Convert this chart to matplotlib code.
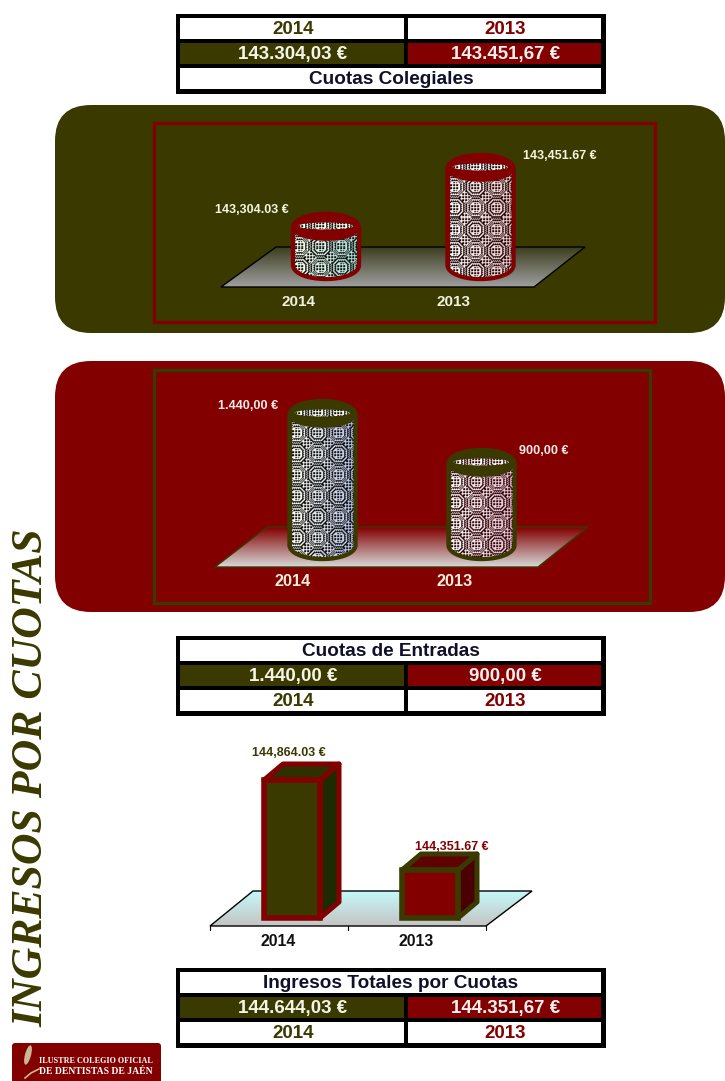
#!/usr/bin/env python3
"""Ingresos por cuotas: tres graficos 3D con sus tablas."""
import numpy as np
import matplotlib
matplotlib.use('Agg')
import matplotlib.pyplot as plt
from matplotlib.colors import to_rgb
from matplotlib.patches import Rectangle, Ellipse, FancyBboxPatch, Polygon

W, H = 725, 1081
OLIVE = '#393900'
RED = '#820000'

# Data
years = ['2014', '2013']
cuotas_colegiales = [143304.03, 143451.67]
cuotas_entradas = [1440.00, 900.00]
ingresos_totales = [144864.03, 144351.67]

labels_colegiales = ['143,304.03 €', '143,451.67 €']
labels_entradas = ['1.440,00 €', '900,00 €']
labels_totales = ['144,864.03 €', '144,351.67 €']

table_colegiales = ['143.304,03 €', '143.451,67 €']
table_entradas = ['1.440,00 €', '900,00 €']
table_totales = ['144.644,03 €', '144.351,67 €']

plt.rcParams['font.family'] = ['Liberation Sans', 'DejaVu Sans']
plt.rcParams['font.weight'] = 'bold'

fig = plt.figure(figsize=(W / 100, H / 100), dpi=100)
bg = fig.add_axes([0, 0, 1, 1])
bg.set_xlim(0, W)
bg.set_ylim(H, 0)
bg.axis('off')


def chart_axes(box, cat_px, val0, val1):
    # axes in pixel box; categories at 0/1, y axis truncated via two value/pixel pairs
    x0, y0, x1, y1 = box
    ax = fig.add_axes([x0 / W, 1 - y1 / H, (x1 - x0) / W, (y1 - y0) / H])
    dx = 1 / (cat_px[1] - cat_px[0])
    ax.set_xlim((x0 - cat_px[0]) * dx, (x1 - cat_px[0]) * dx)
    dy = (val1[0] - val0[0]) / (val0[1] - val1[1])
    ax.set_ylim(val0[0] - (y1 - val0[1]) * dy, val0[0] + (val0[1] - y0) * dy)
    ax.axis('off')
    ax.patch.set_alpha(0)
    return ax, dx, dy


def texture(w, h, c_left, c_right, dark):
    # woven fill: octagon rings around dotted squares, softened a little
    w, h = int(w), int(h)
    y, x = np.mgrid[0:h, 0:w]
    cx = (x + 6) % 21 - 10
    cy = (y + 2) % 21 - 10
    r = np.maximum(np.maximum(abs(cx), abs(cy)), (abs(cx) + abs(cy)) / 1.4)
    dots = (x % 3 != 2) & (y % 3 != 2)
    step = np.floor(r) % 3
    rings = (step == 0) | ((step == 1) & ((x + y) % 2 == 0))
    corner = (abs(cx) + abs(cy)) > 14
    mask = np.where((r < 5) | corner, dots, rings)
    t = (x / max(w - 1, 1))[..., None]
    light = (1 - t) * np.array(to_rgb(c_left)) + t * np.array(to_rgb(c_right))
    img = np.where(mask[..., None], np.array(to_rgb(dark)), light)
    return (img * 3 + np.roll(img, 1, 0) + np.roll(img, 1, 1)) / 5


def cylinder(ax, dx, dy, xc, value, base, edge, c_left, c_right, dark, width_px=62, ell_px=24):
    hw = width_px / 2 * dx
    eh = ell_px * dy
    t = np.linspace(0, np.pi, 40)
    top_x = xc + hw * np.cos(t)
    top_y = value + eh / 2 * np.sin(t)
    bot_x = xc - hw * np.cos(t)
    bot_y = base - eh / 2 * np.sin(t)
    body = Polygon(np.column_stack([np.r_[top_x, bot_x], np.r_[top_y, bot_y]]),
                   closed=True, fc=edge, ec=edge, lw=6, joinstyle='round', zorder=2)
    ax.add_patch(body)
    h_px = (value - base) / dy + ell_px
    img = texture(width_px, h_px, c_left, c_right, dark)
    im = ax.imshow(img, extent=(xc - hw, xc + hw, base - eh / 2, value + eh / 2),
                   aspect='auto', interpolation='nearest', zorder=3)
    im.set_clip_path(Polygon(body.get_xy(), closed=True, transform=ax.transData))
    lid = Ellipse((xc, value), 2 * hw, 20 * dy, fc=edge, ec=edge, lw=4, zorder=4)
    ax.add_patch(lid)
    inner = Ellipse((xc, value + 2 * dy), 1.8 * hw, 7 * dy, transform=ax.transData)
    im2 = ax.imshow(texture(width_px, ell_px, c_left, c_left, dark),
                    extent=(xc - hw, xc + hw, value - eh / 2, value + eh / 2),
                    aspect='auto', interpolation='nearest', zorder=5)
    im2.set_clip_path(inner)


def box3d(ax, dx, dy, xc, value, base, face, edge, top, side, width_px=56, dep_x=19, dep_y=16):
    hw = width_px / 2 * dx
    ddx, ddy = dep_x * dx, dep_y * dy
    ax.add_patch(Polygon([(xc + hw, base), (xc + hw + ddx, base + ddy), (xc + hw + ddx, value + ddy), (xc + hw, value)],
                         fc=side, ec=edge, lw=3.6, joinstyle='round', zorder=2))
    ax.add_patch(Polygon([(xc - hw, value), (xc + hw, value), (xc + hw + ddx, value + ddy), (xc - hw + ddx, value + ddy)],
                         fc=top, ec=edge, lw=3.6, joinstyle='round', zorder=2))
    ax.bar(xc, value - base, bottom=base, width=2 * hw, color=face, edgecolor=edge, linewidth=4, zorder=3)


def floor(back, front, top_color, front_color, line):
    # back=(y,x0,x1), front=(y,x0,x1)
    pts = [(back[1], back[0]), (back[2], back[0]), (front[2], front[0]), (front[1], front[0])]
    c0 = np.array(to_rgb(top_color))
    c1 = np.array(to_rgb(front_color))
    t = np.linspace(0, 1, 64)[:, None, None]
    img = (1 - t) * c0[None, None, :] + t * c1[None, None, :]
    xs = [p[0] for p in pts]
    im = bg.imshow(img, extent=(min(xs), max(xs), front[0], back[0]), aspect='auto', zorder=2)
    im.set_clip_path(Polygon(pts, closed=True, transform=bg.transData))
    bg.add_patch(Polygon(pts, closed=True, fill=False, ec=line, lw=1, zorder=3))


def panel(x0, y0, x1, y1, fill, frame, frame_box):
    r = 36
    bg.add_patch(FancyBboxPatch((x0 + r, y0 + r), x1 - x0 - 2 * r, y1 - y0 - 2 * r,
                                boxstyle='round,pad=%d,rounding_size=%d' % (r, r), fc=fill, ec='none', zorder=1))
    fx0, fy0, fx1, fy1 = frame_box
    bg.add_patch(Rectangle((fx0, fy0), fx1 - fx0, fy1 - fy0, fill=False, ec=frame, lw=2.4, zorder=1.5))


def table(y0, rows):
    bg.add_patch(Rectangle((176, y0), 430, 80, fc='black', ec='none', zorder=1))
    for i, row in enumerate(rows):
        ry = y0 + 4 + 25 * i
        if len(row) == 1:
            bg.add_patch(Rectangle((180, ry), 421, 21, fc='white', ec='none', zorder=2))
            bg.text(391, ry + 11, row[0], ha='center', va='center', fontsize=13.7, color='#10102a', zorder=3)
        else:
            for (text, fill, color), cx0, cx1 in zip(row, (180, 408), (404, 601)):
                bg.add_patch(Rectangle((cx0, ry), cx1 - cx0, 21, fc=fill, ec='none', zorder=2))
                bg.text((cx0 + cx1) / 2 + 1, ry + 11, text, ha='center', va='center', fontsize=13.5, color=color, zorder=3)


year_row = [(years[0], 'white', OLIVE), (years[1], 'white', RED)]

# ------------------------------------------------------------------ tables
table(14, [year_row,
           [(table_colegiales[0], OLIVE, '#f4f4e8'), (table_colegiales[1], RED, '#f8eeee')],
           ['Cuotas Colegiales']])
table(636, [['Cuotas de Entradas'],
            [(table_entradas[0], OLIVE, '#f4f4e8'), (table_entradas[1], RED, '#f8eeee')],
            year_row])
table(968, [['Ingresos Totales por Cuotas'],
            [(table_totales[0], OLIVE, '#f4f4e8'), (table_totales[1], RED, '#f8eeee')],
            year_row])

# ------------------------------------------------------------------ chart 1
panel(55, 105, 725, 333, OLIVE, RED, (154, 123, 655, 322))
floor((247, 276, 585), (287, 221, 534), '#3d3d20', '#a0a0a0', 'black')
ax1, dx, dy = chart_axes((154, 123, 655, 322), (326, 480.5), (cuotas_colegiales[0], 228), (cuotas_colegiales[1], 169))
base1 = cuotas_colegiales[0] - 37 * dy
cylinder(ax1, dx, dy, 0, cuotas_colegiales[0], base1, RED, '#fffff0', '#a8e0d8', '#101010')
cylinder(ax1, dx, dy, 1, cuotas_colegiales[1], base1, RED, '#ffffff', '#f0c8c8', '#200808')
bg.text(252, 210, labels_colegiales[0], ha='center', va='center', fontsize=9, color='#f4f4e0', zorder=3)
bg.text(560, 156, labels_colegiales[1], ha='center', va='center', fontsize=9, color='#f4f4e0', zorder=3)
bg.text(299, 302, years[0], ha='center', va='center', fontsize=11, color='#f0f0e0', zorder=3)
bg.text(454, 302, years[1], ha='center', va='center', fontsize=11, color='#f0f0e0', zorder=3)

# ------------------------------------------------------------------ chart 2
panel(55, 361, 725, 612, RED, OLIVE, (154, 370, 650, 603))
floor((527, 267, 588), (567, 215, 538), RED, '#d8d8d8', OLIVE)
ax2, dx, dy = chart_axes((154, 370, 650, 603), (322.5, 481.5), (cuotas_entradas[0], 415), (cuotas_entradas[1], 464))
base2 = cuotas_entradas[0] - 130 * dy
cylinder(ax2, dx, dy, 0, cuotas_entradas[0], base2, OLIVE, '#fffff0', '#b8c4e8', '#101010')
cylinder(ax2, dx, dy, 1, cuotas_entradas[1], base2, OLIVE, '#ffffff', '#e8c0d0', '#300808')
bg.text(248, 406, labels_entradas[0], ha='center', va='center', fontsize=9.1, color='#f8e8e8', zorder=3)
bg.text(544, 451, labels_entradas[1], ha='center', va='center', fontsize=9.1, color='#f8e8e8', zorder=3)
bg.text(293, 582, years[0], ha='center', va='center', fontsize=11.7, color='#f8ecd8', zorder=3)
bg.text(455, 582, years[1], ha='center', va='center', fontsize=11.7, color='#f8ecd8', zorder=3)

# ------------------------------------------------------------------ chart 3
floor((891, 253, 532), (926, 210, 486), '#c4f8f8', '#c4c4c4', 'black')
for tx in (210, 348, 486):
    bg.plot([tx, tx], [926, 930], color='black', lw=0.8, zorder=3)
ax3, dx, dy = chart_axes((200, 740, 540, 930), (292, 430), (ingresos_totales[0], 780), (ingresos_totales[1], 870))
base3 = ingresos_totales[1] - 48 * dy
box3d(ax3, dx, dy, 0, ingresos_totales[0], base3, OLIVE, RED, '#2f2f00', '#1e2a00')
box3d(ax3, dx, dy, 1, ingresos_totales[1], base3, RED, OLIVE, '#600000', '#4a0000')
fig.text(289 / W, 1 - 753 / H, labels_totales[0], ha='center', va='center', fontsize=9, color=OLIVE, zorder=6)
fig.text(452 / W, 1 - 847 / H, labels_totales[1], ha='center', va='center', fontsize=9, color=RED, zorder=6)
bg.text(278, 941, years[0], ha='center', va='center', fontsize=11.3, color='#101010', zorder=3)
bg.text(416, 941, years[1], ha='center', va='center', fontsize=11.3, color='#101010', zorder=3)

# ------------------------------------------------------------------ side title and logo
bg.text(31, 778, 'INGRESOS POR CUOTAS', rotation=90, ha='center', va='center', fontsize=31.5,
        family='Liberation Serif', style='italic', weight='bold', color=OLIVE, zorder=3)

bg.add_patch(FancyBboxPatch((15, 1046), 143, 36, boxstyle='round,pad=3,rounding_size=3', fc=RED, ec='none', zorder=2))
bg.add_patch(Ellipse((28, 1055), 6, 20, angle=15, fc='#c8b898', ec='none', zorder=3))
bg.plot([25, 31, 39], [1078, 1073, 1069], color='#c8b898', lw=1.2, zorder=3)
bg.text(96, 1061, 'ILUSTRE COLEGIO OFICIAL', ha='center', va='center', fontsize=5.9,
        family='Liberation Serif', color='white', zorder=3)
bg.text(96, 1071, 'DE DENTISTAS DE JAÉN', ha='center', va='center', fontsize=6.9,
        family='Liberation Serif', color='white', zorder=3)

fig.savefig('out.png', dpi=100)
